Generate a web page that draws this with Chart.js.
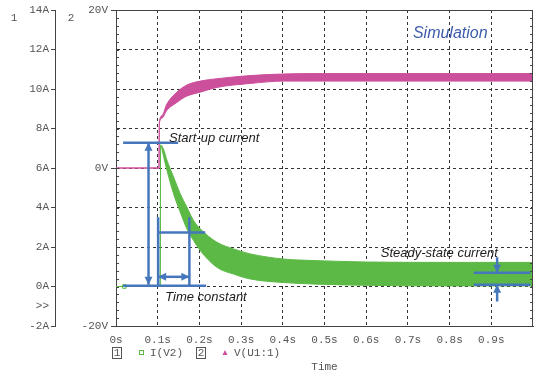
<!DOCTYPE html>
<html lang="en">
<head>
<meta charset="UTF-8">
<title>Start-up current - simulation</title>
<style>
  html, body { margin: 0; padding: 0; background: #fff; }
  #wrap { width: 539px; height: 371px; }
</style>
</head>
<body>
<div id="wrap"><canvas id="chart" width="539" height="371"></canvas></div>
<script src="https://cdn.jsdelivr.net/npm/chart.js@4"></script>
<script>
// time axis
const xTicks = [0, 0.1, 0.2, 0.3, 0.4, 0.5, 0.6, 0.7, 0.8, 0.9];
const xLabels = ['0s', '0.1s', '0.2s', '0.3s', '0.4s', '0.5s', '0.6s', '0.7s', '0.8s', '0.9s'];
// axis 1 : current
const ampTicks = [-2, -1, 0, 2, 4, 6, 8, 10, 12, 14];
const ampLabels = ['-2A', '>>', '0A', '2A', '4A', '6A', '8A', '10A', '12A', '14A'];
// axis 2 : voltage
const voltTicks = [-20, -15, -10, -5, 0, 5, 10, 15, 20];
const voltLabels = ['-20V', '', '', '', '0V', '', '', '', '20V'];

// I(V2) - green, drawn as a ripple band (upper / lower edge)
const iTime = [0, 0.106, 0.107, 0.114, 0.122, 0.138, 0.154, 0.170, 0.186, 0.202, 0.242, 0.282, 0.322, 0.402, 0.482, 0.60, 0.80, 1.0];
const iHigh = [0, 0, 7.16, 6.95, 6.4, 5.55, 4.70, 4.02, 3.34, 2.92, 2.24, 1.90, 1.65, 1.39, 1.31, 1.24, 1.22, 1.22];
const iLow  = [0, 0, 7.16, 6.60, 5.9, 4.70, 3.77, 2.92, 2.33, 1.82, 0.97, 0.63, 0.38, 0.20, 0.12, 0.06, 0.03, 0.03];

// V(U1:1) - pink band
const vTime = [0, 0.103, 0.104, 0.110, 0.122, 0.146, 0.170, 0.202, 0.242, 0.322, 0.402, 0.482, 0.60, 0.80, 1.0];
const vHigh = [0, 0, 5.7, 6.6, 8.1, 9.6, 10.5, 11.0, 11.3, 11.7, 11.9, 11.95, 11.95, 11.95, 11.95];
const vLow  = [0, 0, 5.7, 6.3, 7.3, 8.3, 9.1, 9.6, 10.2, 10.7, 11.0, 11.0, 11.0, 11.0, 11.0];

const GREEN = '#5cb946';
const PINK = '#cc4f9c';
const BLUE = '#4677bd';
const INK = '#555';
const MONO = '"Liberation Mono", "DejaVu Sans Mono", monospace';

// blue guide marks, in seconds / amps
const guideLines = [
  [0.017, 7.28, 0.149, 7.28],
  [0.017, 0.04, 0.216, 0.04],
  [0.101, 3.51, 0.101, 0.04],
  [0.176, 3.51, 0.176, 0.04],
  [0.101, 2.73, 0.214, 2.73],
  [0.858, 0.70, 0.994, 0.70],
  [0.858, 0.09, 0.994, 0.09]
];
const guideArrows = [
  { from: [0.078, 0.09], to: [0.078, 7.28], both: true },
  { from: [0.101, 0.49], to: [0.176, 0.49], both: true },
  { from: [0.914, 1.48], to: [0.914, 0.70] },
  { from: [0.914, -0.76], to: [0.914, 0.09] }
];
const notes = [
  { text: 'Start-up current', t: 0.127, a: 7.52, size: 13, color: '#1a1a1a' },
  { text: 'Time constant', t: 0.118, a: -0.57, size: 13, color: '#1a1a1a' },
  { text: 'Steady-state current', t: 0.635, a: 1.68, size: 13, color: '#1a1a1a' },
  { text: 'Simulation', t: 0.712, a: 12.81, size: 16, color: '#3b5bab' }
];

const pts = (xs, ys) => xs.map((x, i) => ({ x: x, y: ys[i] }));

function arrowHead(ctx, x1, y1, x2, y2) {
  const ang = Math.atan2(y2 - y1, x2 - x1);
  const len = 8, half = 4;
  ctx.beginPath();
  ctx.moveTo(x2, y2);
  ctx.lineTo(x2 - len * Math.cos(ang) + half * Math.sin(ang), y2 - len * Math.sin(ang) - half * Math.cos(ang));
  ctx.lineTo(x2 - len * Math.cos(ang) - half * Math.sin(ang), y2 - len * Math.sin(ang) + half * Math.cos(ang));
  ctx.closePath();
  ctx.fill();
}

const framePlugin = {
  id: 'frame',
  afterDatasetsDraw(chart) {
    const { ctx, chartArea: a, scales } = chart;
    const yV = scales.yV;
    ctx.save();
    ctx.strokeStyle = '#444';
    ctx.lineWidth = 1;
    ctx.beginPath();
    ctx.moveTo(a.left, a.top + 0.5); ctx.lineTo(a.right, a.top + 0.5);
    ctx.moveTo(a.right - 0.5, a.top); ctx.lineTo(a.right - 0.5, a.bottom);
    // small inner ticks every volt
    for (let v = -19; v <= 19; v++) {
      const py = Math.round(yV.getPixelForValue(v)) + 0.5;
      ctx.moveTo(a.left, py); ctx.lineTo(a.left + 3, py);
      ctx.moveTo(a.right - 3, py); ctx.lineTo(a.right, py);
    }
    ctx.stroke();

    // guide marks
    const x = scales.x, y = scales.yA;
    ctx.strokeStyle = BLUE;
    ctx.fillStyle = BLUE;
    ctx.lineWidth = 2.5;
    guideLines.forEach(l => {
      ctx.beginPath();
      ctx.moveTo(x.getPixelForValue(l[0]), y.getPixelForValue(l[1]));
      ctx.lineTo(x.getPixelForValue(l[2]), y.getPixelForValue(l[3]));
      ctx.stroke();
    });
    guideArrows.forEach(g => {
      const x1 = x.getPixelForValue(g.from[0]), y1 = y.getPixelForValue(g.from[1]);
      const x2 = x.getPixelForValue(g.to[0]), y2 = y.getPixelForValue(g.to[1]);
      ctx.beginPath();
      ctx.moveTo(x1, y1); ctx.lineTo(x2, y2);
      ctx.stroke();
      arrowHead(ctx, x1, y1, x2, y2);
      if (g.both) arrowHead(ctx, x2, y2, x1, y1);
    });

    ctx.textAlign = 'left';
    ctx.textBaseline = 'middle';
    notes.forEach(n => {
      ctx.font = 'italic ' + n.size + 'px "Liberation Sans", Arial, sans-serif';
      ctx.fillStyle = n.color;
      ctx.fillText(n.text, x.getPixelForValue(n.t), y.getPixelForValue(n.a));
    });
    ctx.restore();
  },
  afterDraw(chart) {
    const { ctx, chartArea: a } = chart;
    ctx.save();
    ctx.font = '11px ' + MONO;
    ctx.fillStyle = INK;
    ctx.strokeStyle = INK;
    ctx.lineWidth = 1;
    ctx.textBaseline = 'middle';
    ctx.textAlign = 'center';
    ctx.fillText('1', 14, 18);
    ctx.fillText('2', 71, 18);

    // legend row
    ctx.strokeRect(112.5, 347.5, 9, 11);
    ctx.fillText('1', 117, 353);
    ctx.strokeRect(196.5, 347.5, 9, 11);
    ctx.fillText('2', 201, 353);
    ctx.textAlign = 'left';
    ctx.fillText('I(V2)', 150, 353);
    ctx.fillText('V(U1:1)', 234, 353);
    ctx.strokeStyle = GREEN;
    ctx.strokeRect(139.5, 350.5, 4, 4);
    ctx.fillStyle = PINK;
    ctx.beginPath();
    ctx.moveTo(225, 350); ctx.lineTo(227.5, 355); ctx.lineTo(222.5, 355);
    ctx.closePath();
    ctx.fill();

    ctx.fillStyle = INK;
    ctx.textAlign = 'center';
    ctx.fillText('Time', (a.left + a.right) / 2, 367);
    ctx.restore();
  }
};

const band = (xs, ys, color, axis, fill) => ({
  data: pts(xs, ys),
  yAxisID: axis,
  borderColor: color,
  backgroundColor: color,
  borderWidth: 1,
  pointRadius: 0,
  cubicInterpolationMode: 'monotone',
  fill: fill
});

new Chart(document.getElementById('chart'), {
  type: 'line',
  data: {
    datasets: [
      band(iTime, iHigh, GREEN, 'yA', false),
      band(iTime, iLow, GREEN, 'yA', '-1'),
      band(vTime, vHigh, PINK, 'yV', false),
      band(vTime, vLow, PINK, 'yV', '-1'),
      {
        data: [{ x: 0.02, y: 0 }],
        yAxisID: 'yA',
        showLine: false,
        pointStyle: 'rect',
        pointRadius: 2.5,
        borderColor: GREEN,
        backgroundColor: 'rgba(255,255,255,0)',
        borderWidth: 1
      }
    ]
  },
  options: {
    responsive: false,
    animation: false,
    devicePixelRatio: 1,
    layout: { padding: { top: 10, right: 6, left: 0, bottom: 0 } },
    plugins: { legend: { display: false }, tooltip: { enabled: false } },
    scales: {
      x: {
        type: 'linear', min: 0, max: 1,
        afterBuildTicks: s => { s.ticks = xTicks.map(v => ({ value: v })); },
        afterFit: s => { s.height = 45; },
        ticks: { callback: (v, i) => xLabels[i], font: { family: MONO, size: 11 }, color: INK, padding: 7, maxRotation: 0, autoSkip: false },
        grid: { color: '#333', lineWidth: 1, drawTicks: false },
        border: { color: '#444', width: 1, dash: [3, 3] }
      },
      yV: {
        type: 'linear', position: 'left', weight: 0, min: -20, max: 20,
        afterBuildTicks: s => { s.ticks = voltTicks.map(v => ({ value: v })); },
        afterFit: s => { s.width = 61; },
        ticks: { callback: (v, i) => voltLabels[i], font: { family: MONO, size: 11 }, color: INK, padding: 3, autoSkip: false },
        grid: {
          color: '#333', lineWidth: 1, tickLength: 5,
          tickColor: c => (c.tick && c.tick.value % 20 === 0 ? '#444' : 'rgba(0,0,0,0)')
        },
        border: { color: '#444', width: 1, dash: [3, 3] }
      },
      yA: {
        type: 'linear', position: 'left', weight: 1, min: -2, max: 14,
        afterBuildTicks: s => { s.ticks = ampTicks.map(v => ({ value: v })); },
        afterFit: s => { s.width = 55; },
        ticks: { callback: (v, i) => ampLabels[i], font: { family: MONO, size: 11 }, color: INK, padding: 2, autoSkip: false },
        grid: {
          drawOnChartArea: false, tickLength: 4, color: '#444',
          tickColor: c => (c.tick && c.tick.value === -1 ? 'rgba(0,0,0,0)' : '#444')
        },
        border: { color: '#444', width: 1 }
      }
    }
  },
  plugins: [framePlugin]
});
</script>
</body>
</html>
